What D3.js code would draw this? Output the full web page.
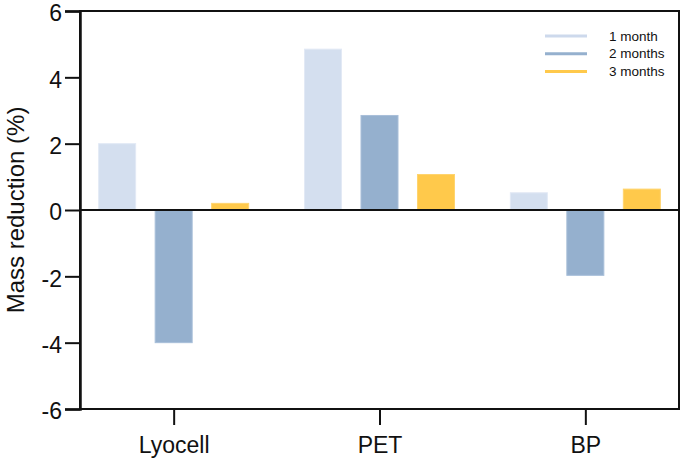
<!DOCTYPE html>
<html>
<head>
<meta charset="utf-8">
<script src="https://cdn.jsdelivr.net/npm/d3@7"></script>
<style>
  body { margin: 0; background: #fff; }
  text { font-family: "Liberation Sans", Arial, sans-serif; fill: #111; }
</style>
</head>
<body>
<svg id="vis"></svg>
<script>
const WIDTH = 681;
const HEIGHT = 462;

// datos
const categories = ["Lyocell", "PET", "BP"];
const series = ["1 month", "2 months", "3 months"];
const month1 = [2.0, 4.85, 0.52];
const month2 = [-4.0, 2.85, -1.97];
const month3 = [0.2, 1.07, 0.63];
const yTicks = [-6, -4, -2, 0, 2, 4, 6];

const colores = ["#d4dfef", "#95b0ce", "#ffc94b"];
const bordes = ["#e2e9f5", "#a8bfd9", "#ffd46e"];

const valores = [month1, month2, month3];

const svg = d3.select("#vis")
    .attr("width", WIDTH)
    .attr("height", HEIGHT);

const mLeft = 80, mRight = 679, mTop = 11, mBottom = 409;

const escalaY = d3.scaleLinear()
    .domain([-6, 6])
    .range([mBottom, mTop]);

const escalaX = d3.scalePoint()
    .domain(categories)
    .range([mLeft, mRight])
    .padding(0.455);

const escalaSub = d3.scaleBand()
    .domain(series)
    .range([-75, 75])
    .paddingInner(0.345)
    .paddingOuter(0);

// barras
series.forEach((s, i) => {
    svg.append("g")
        .selectAll("rect")
        .data(categories.map((c, j) => ({ cat: c, v: valores[i][j] })))
        .join("rect")
        .attr("x", d => escalaX(d.cat) + escalaSub(s))
        .attr("width", escalaSub.bandwidth())
        .attr("y", d => escalaY(Math.max(0, d.v)))
        .attr("height", d => Math.abs(escalaY(d.v) - escalaY(0)))
        .attr("fill", colores[i])
        .attr("stroke", bordes[i])
        .attr("stroke-width", 1);
});

// linea del cero
svg.append("line")
    .attr("x1", mLeft).attr("x2", mRight)
    .attr("y1", escalaY(0)).attr("y2", escalaY(0))
    .attr("stroke", "#111")
    .attr("stroke-width", 2);

// marco
svg.append("rect")
    .attr("x", mLeft).attr("y", mTop)
    .attr("width", mRight - mLeft).attr("height", mBottom - mTop)
    .attr("fill", "none")
    .attr("stroke", "#111")
    .attr("stroke-width", 2);

// eje Y
const ejeY = d3.axisLeft(escalaY)
    .tickValues(yTicks)
    .tickSize(15)
    .tickPadding(3)
    .tickFormat(d3.format("d"));

const gY = svg.append("g")
    .attr("transform", `translate(${mLeft}, 0)`)
    .call(ejeY);
gY.select(".domain").attr("stroke", "#111").attr("stroke-width", 2.5);
gY.selectAll(".tick line").attr("stroke", "#111").attr("stroke-width", 2);
gY.selectAll(".tick text")
    .style("font-size", "23px")
    .attr("fill", "#111")
    .attr("dy", "0.42em")
    .text(d => d < 0 ? "-" + Math.abs(d) : d);

// eje X
const ejeX = d3.axisBottom(escalaX)
    .tickSize(16)
    .tickPadding(12)
    .tickSizeOuter(0);

const gX = svg.append("g")
    .attr("transform", `translate(0, ${mBottom})`)
    .call(ejeX);
gX.select(".domain").remove();
gX.selectAll(".tick line").attr("stroke", "#111").attr("stroke-width", 2);
gX.selectAll(".tick text")
    .style("font-size", "23px")
    .attr("fill", "#111");

// titulo eje Y
svg.append("text")
    .attr("transform", `translate(24, ${(mTop + mBottom) / 2}) rotate(-90)`)
    .attr("text-anchor", "middle")
    .style("font-size", "24px")
    .text("Mass reduction (%)");

// leyenda
const leyenda = svg.append("g")
    .attr("transform", "translate(545, 36)");

series.forEach((s, i) => {
    const fila = leyenda.append("g")
        .attr("transform", `translate(0, ${i * 17.7})`);
    fila.append("line")
        .attr("x1", 0).attr("x2", 42)
        .attr("stroke", i === 0 ? "#cdd9ec" : colores[i])
        .attr("stroke-width", 3);
    fila.append("text")
        .attr("x", 64)
        .attr("dy", "0.35em")
        .style("font-size", "13.5px")
        .text(s);
});
</script>
</body>
</html>
